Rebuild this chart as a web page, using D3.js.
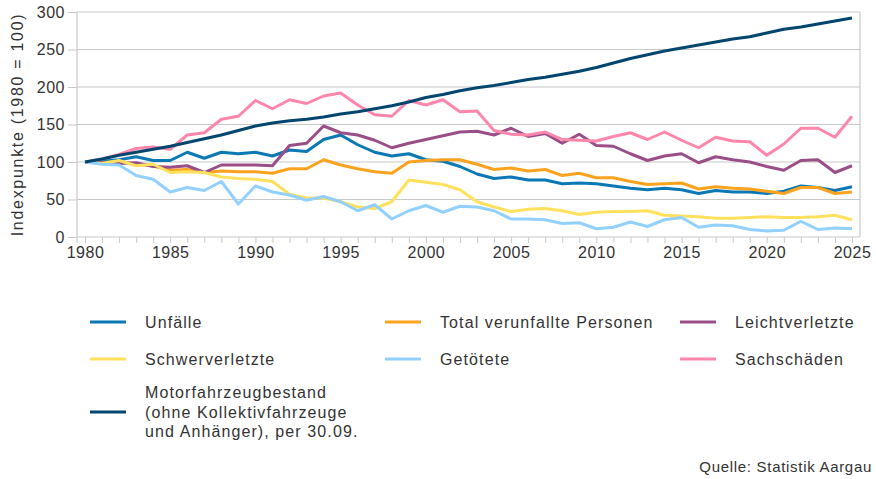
<!DOCTYPE html>
<html lang="de">
<head>
<meta charset="UTF-8">
<title>Strassenverkehrsunfälle Aargau</title>
<script src="https://d3js.org/d3.v7.min.js"></script>
<style>
    body { margin: 0; background: #fff; font-family: "Liberation Sans", Arial, sans-serif; }
    .tick text { fill: #333; font-size: 16px; letter-spacing: 0.5px; }
    .legend text { fill: #333; font-size: 16px; letter-spacing: 1.1px; }
    .source { fill: #333; font-size: 15px; letter-spacing: 0.7px; }
    .ytitle { fill: #333; font-size: 16px; letter-spacing: 1.7px; }
</style>
</head>
<body>
<svg width="876" height="479"></svg>
<script>
const years = d3.range(1980, 2026);

const unfaelle = [100,101,103,107,102,102,113,105,113,111,113,108,116,114,130,136,123,113,108,111,103,101,94,84,78,80,76,76,71,72,71,68,65,63,65,63,58,62,60,60,58,61,68,66,62,67];
const totalPersonen = [100,99,101,97,95,89,90,86,88,87,87,85,91,91,103,96,91,87,85,100,102,103,103,97,90,92,88,90,82,85,79,79,74,70,71,72,64,67,65,64,61,58,66,66,58,60];
const leichtverletzte = [100,99,98,99,94,93,95,86,96,96,96,95,122,125,148,139,136,129,119,125,130,135,140,141,136,145,134,138,125,137,122,121,111,102,108,111,99,107,103,100,94,89,102,103,86,95];
const schwerverletzte = [100,98,102,95,97,86,87,86,80,78,77,74,57,52,52,47,40,38,47,76,73,70,63,47,40,34,37,38,35,30,33,34,34,35,29,28,27,25,25,26,27,26,26,27,29,23];
const getoetete = [100,97,96,82,77,60,66,62,74,44,68,60,56,49,54,47,35,43,24,35,42,33,41,40,35,24,24,23,18,19,11,13,20,14,23,26,13,16,15,10,8,9,21,10,12,11];
const sachschaeden = [100,104,110,118,120,117,136,139,157,161,182,171,183,178,188,192,176,163,161,182,176,183,167,168,142,137,136,140,130,129,128,134,139,130,140,129,119,133,128,127,109,124,145,145,133,161];
const motorfahrzeuge = [100,104,109,113,117,121,126,131,136,142,148,152,155,157,160,164,167,171,175,180,186,190,195,199,202,206,210,213,217,221,226,232,238,243,248,252,256,260,264,267,272,277,280,284,288,292];

const seriesNames = ["Unfälle", "Total verunfallte Personen", "Leichtverletzte",
    "Schwerverletzte", "Getötete", "Sachschäden",
    "Motorfahrzeugbestand (ohne Kollektivfahrzeuge und Anhänger), per 30.09."];
const seriesValues = [unfaelle, totalPersonen, leichtverletzte, schwerverletzte, getoetete, sachschaeden, motorfahrzeuge];
const colors = ["#0a78b5", "#fba31f", "#9a4e88", "#ffe15e", "#92d1ff", "#ff86ab", "#00466f"];
const yTicks = [0, 50, 100, 150, 200, 250, 300];
const xTicks = [1980, 1985, 1990, 1995, 2000, 2005, 2010, 2015, 2020, 2025];

const svg = d3.select("svg");
const plotLeft = 77, plotRight = 860, plotTop = 12, plotBottom = 237;

const x = d3.scaleLinear().domain([1980, 2025]).range([85, 852]);
const y = d3.scaleLinear().domain([0, 300]).range([plotBottom, plotTop]);

// gridlines + y ticks
const yAxis = svg.append("g")
    .attr("transform", `translate(${plotLeft},0)`)
    .call(d3.axisLeft(y).tickValues(yTicks).tickSize(9).tickPadding(3));
yAxis.select(".domain").remove();
yAxis.selectAll(".tick line").attr("stroke", "#c8c8c8");
svg.append("g").selectAll("line").data(yTicks).join("line")
    .attr("x1", plotLeft).attr("x2", plotRight)
    .attr("y1", d => y(d)).attr("y2", d => y(d))
    .attr("stroke", "#c8c8c8").attr("stroke-width", 1.2);

// frame sides
svg.append("line").attr("x1", plotLeft).attr("x2", plotLeft).attr("y1", plotTop).attr("y2", plotBottom + 6)
    .attr("stroke", "#c8c8c8").attr("stroke-width", 1.2);
svg.append("line").attr("x1", plotRight).attr("x2", plotRight).attr("y1", plotTop).attr("y2", plotBottom)
    .attr("stroke", "#c8c8c8").attr("stroke-width", 1.2);

// x axis: small tick per year, labels every 5
const xAxis = svg.append("g")
    .attr("transform", `translate(0,${plotBottom})`)
    .call(d3.axisBottom(x).tickValues(years).tickSize(6).tickPadding(4)
        .tickFormat(d => xTicks.includes(d) ? d : ""));
xAxis.select(".domain").remove();
xAxis.selectAll(".tick line").attr("stroke", "#c8c8c8");

svg.append("text").attr("class", "ytitle")
    .attr("transform", `translate(23,${(plotTop + plotBottom) / 2}) rotate(-90)`)
    .attr("text-anchor", "middle")
    .text("Indexpunkte (1980 = 100)");

// lines
const line = d3.line().x((d, i) => x(years[i])).y(d => y(d));
svg.append("g").selectAll("path").data(seriesValues).join("path")
    .attr("d", d => line(d))
    .attr("fill", "none")
    .attr("stroke", (d, i) => colors[i])
    .attr("stroke-width", 3)
    .attr("stroke-linejoin", "round");

// legend
const legend = svg.append("g").attr("class", "legend");
const colX = [90, 385, 680], rowY = [322, 359, 412];
seriesNames.forEach((name, i) => {
    const cx = colX[i % 3], cy = rowY[Math.floor(i / 3)];
    legend.append("line").attr("x1", cx).attr("x2", cx + 36).attr("y1", cy).attr("y2", cy)
        .attr("stroke", colors[i]).attr("stroke-width", 3);
    const t = legend.append("text").attr("x", cx + 55).attr("y", cy).attr("dy", "0.35em");
    if (i === 6) {
        const parts = ["Motorfahrzeugbestand", "(ohne Kollektivfahrzeuge", "und Anhänger), per 30.09."];
        parts.forEach((p, j) => t.append("tspan").attr("x", cx + 55).attr("dy", j === 0 ? "-0.85em" : "1.2em").text(p));
    } else {
        t.text(name);
    }
});

svg.append("text").attr("class", "source")
    .attr("x", 872).attr("y", 472).attr("text-anchor", "end")
    .text("Quelle: Statistik Aargau");
</script>
</body>
</html>
